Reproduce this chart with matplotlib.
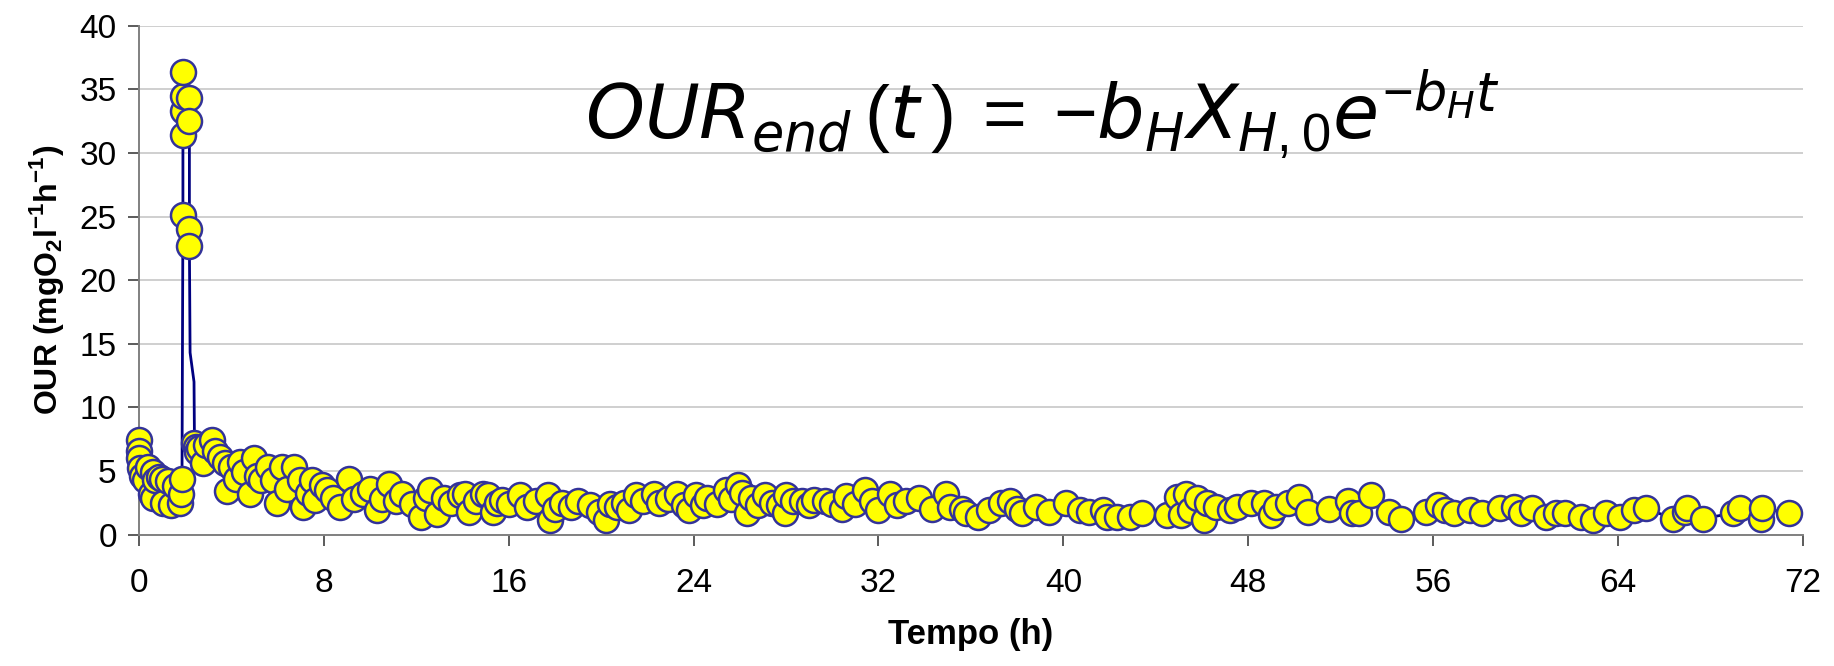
import matplotlib
matplotlib.use("Agg")
import matplotlib.pyplot as plt
import numpy as np

plt.rcParams['font.family'] = ['Liberation Sans', 'DejaVu Sans']
plt.rcParams['mathtext.fontset'] = 'custom'
plt.rcParams['mathtext.rm'] = 'Liberation Sans'
plt.rcParams['mathtext.bf'] = 'Liberation Sans:bold'
plt.rcParams['mathtext.it'] = 'DejaVu Sans:italic'

# tempo (h) e OUR (mgO2/l/h)
tempo = [
    0.00, 0.00, 0.02, 0.05, 0.12, 0.26, 0.40, 0.50, 0.60, 0.62,
    0.70, 0.85, 1.00, 1.05, 1.27, 1.40, 1.56, 1.77, 1.82, 1.86,
    1.90, 1.90, 1.90, 1.90, 1.90, 2.18, 2.18, 2.18, 2.18, 2.21,
    2.38, 2.40, 2.45, 2.50, 2.60, 2.79, 2.90, 3.15, 3.30, 3.50,
    3.70, 3.80, 3.99, 4.20, 4.35, 4.55, 4.80, 4.96, 5.10, 5.30,
    5.60, 5.80, 5.96, 6.20, 6.40, 6.69, 6.97, 7.10, 7.30, 7.50,
    7.60, 7.90, 8.15, 8.40, 8.70, 9.07, 9.30, 9.70, 10.0, 10.3,
    10.5, 10.8, 11.1, 11.4, 11.8, 12.2, 12.4, 12.6, 12.9, 13.2,
    13.5, 13.9, 14.1, 14.3, 14.6, 14.9, 15.1, 15.3, 15.5, 15.7,
    16.0, 16.5, 16.8, 17.2, 17.7, 17.8, 18.0, 18.3, 18.7, 19.0,
    19.5, 19.9, 20.2, 20.4, 20.7, 21.0, 21.2, 21.5, 21.8, 22.3,
    22.5, 22.9, 23.3, 23.6, 23.8, 24.1, 24.4, 24.6, 25.0, 25.4,
    25.6, 25.9, 26.1, 26.3, 26.5, 26.8, 27.1, 27.4, 27.7, 27.97,
    28.0, 28.3, 28.7, 29.0, 29.2, 29.7, 30.0, 30.4, 30.6, 31.0,
    31.4, 31.7, 32.0, 32.5, 32.8, 33.2, 33.75, 34.3, 34.9, 35.1,
    35.6, 35.8, 36.3, 36.8, 37.3, 37.7, 38.0, 38.2, 38.8, 39.4,
    40.1, 40.7, 41.1, 41.7, 41.9, 42.3, 42.9, 43.4, 44.5, 44.9,
    45.1, 45.3, 45.5, 45.8, 46.1, 46.2, 46.6, 47.2, 47.5, 48.1,
    48.7, 49.0, 49.2, 49.7, 50.2, 50.6, 51.5, 52.3, 52.5, 52.8,
    53.3, 54.1, 54.6, 55.7, 56.2, 56.5, 56.9, 57.6, 58.1, 58.9,
    59.5, 59.8, 60.3, 60.9, 61.3, 61.7, 62.4, 62.9, 63.5, 64.1,
    64.7, 65.2, 66.4, 66.9, 67.0, 67.7, 69.0, 69.3, 70.2, 70.25,
    71.4,
]
our = [
    7.4, 6.6, 6.0, 5.2, 4.6, 4.3, 5.3, 3.2, 4.9, 2.85,
    4.3, 4.5, 4.4, 2.45, 4.2, 2.3, 3.8, 2.45, 3.2, 4.4,
    25.1, 31.4, 33.3, 34.5, 36.4, 34.3, 32.5, 24.0, 22.7, 14.3,
    12.0, 7.2, 6.9, 6.5, 6.8, 5.6, 7.0, 7.4, 6.6, 6.1,
    5.6, 3.4, 5.3, 4.4, 5.7, 4.9, 3.2, 6.0, 4.6, 4.3,
    5.3, 4.3, 2.45, 5.3, 3.6, 5.3, 4.3, 2.2, 3.3, 4.3,
    2.7, 3.9, 3.5, 2.9, 2.2, 4.4, 2.8, 3.2, 3.6, 1.9,
    2.8, 4.0, 2.6, 3.2, 2.4, 1.4, 2.9, 3.5, 1.65, 2.9,
    2.45, 3.1, 3.2, 1.8, 2.6, 3.2, 3.1, 1.8, 2.45, 2.7,
    2.4, 3.1, 2.2, 2.6, 3.1, 1.15, 2.0, 2.45, 2.2, 2.6,
    2.3, 1.8, 1.15, 2.4, 2.2, 2.5, 1.9, 3.1, 2.6, 3.2,
    2.45, 2.8, 3.2, 2.3, 1.9, 3.1, 2.3, 2.85, 2.4, 3.5,
    2.8, 3.9, 3.3, 1.7, 2.85, 2.3, 3.1, 2.5, 2.3, 1.7,
    3.1, 2.6, 2.6, 2.3, 2.7, 2.6, 2.4, 2.0, 3.0, 2.4,
    3.5, 2.6, 1.9, 3.2, 2.3, 2.6, 2.85, 2.0, 3.2, 2.2,
    2.0, 1.7, 1.4, 1.9, 2.45, 2.6, 2.0, 1.7, 2.2, 1.8,
    2.45, 1.9, 1.8, 1.9, 1.4, 1.4, 1.4, 1.7, 1.55, 2.95,
    1.5, 3.2, 1.9, 2.85, 1.15, 2.45, 2.2, 1.9, 2.2, 2.45,
    2.45, 1.55, 2.2, 2.45, 2.95, 1.8, 2.0, 2.6, 1.7, 1.7,
    3.1, 1.8, 1.25, 1.8, 2.3, 1.9, 1.7, 1.9, 1.7, 2.05,
    2.2, 1.7, 2.05, 1.4, 1.7, 1.7, 1.4, 1.15, 1.7, 1.4,
    1.9, 2.05, 1.25, 1.8, 2.05, 1.25, 1.7, 2.05, 1.25, 2.05,
    1.7,
]
# punti senza marcatore (solo linea) nel picco
solo_linea = [29, 30]

x_ticks = list(range(0, 73, 8))
y_ticks = list(range(0, 41, 5))

t = np.array(tempo)
y = np.array(our)
con_marker = [i for i in range(len(t)) if i not in solo_linea]

fig = plt.figure(figsize=(18.34, 6.66), dpi=100)
ax = fig.add_axes([0.0758, 0.1974, 0.9072, 0.764])

ax.plot(t, y, color='#000080', lw=2.0, zorder=3, clip_on=False)
ax.plot(t[con_marker], y[con_marker], ls='none', marker='o', ms=18,
        mfc='#FFFF00', mec='#333399', mew=1.8, zorder=4, clip_on=False)

ax.set_xlim(0, 72)
ax.set_ylim(0, 40)
ax.set_xticks(x_ticks)
ax.set_yticks(y_ticks)
ax.yaxis.grid(True, color='#cccccc', lw=1.3)
ax.set_axisbelow(True)
for s in ['top', 'right']:
    ax.spines[s].set_visible(False)
for s in ['left', 'bottom']:
    ax.spines[s].set_color('#808080')
    ax.spines[s].set_linewidth(1.4)
    ax.spines[s].set_zorder(2)
ax.tick_params(axis='both', direction='out', length=8, width=1.2, color='#404040',
               labelsize=24)
ax.tick_params(axis='x', pad=16)
ax.tick_params(axis='y', pad=8)

ax.set_xlabel('Tempo (h)', fontsize=25, fontweight='bold', labelpad=14)
ax.set_ylabel(r'OUR (mgO$_\mathbf{2}$l$^\mathbf{-1}$h$^\mathbf{-1}$)', fontsize=23,
              fontweight='bold', labelpad=10)

fig.text(0.319, 0.790, r'$OUR_{end}\,(t\,)\,=\,{-}b_H X_{H,\mathit{0}}e^{-b_H t}$',
         fontsize=54, ha='left', va='baseline')

fig.savefig('out.png', dpi=100)
